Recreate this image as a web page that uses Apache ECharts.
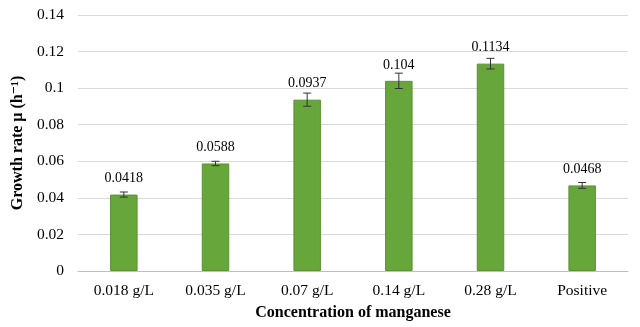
<!DOCTYPE html>
<html>
<head>
<meta charset="utf-8">
<script src="https://cdn.jsdelivr.net/npm/echarts@6/dist/echarts.min.js"></script>
<style>
  html, body { margin: 0; padding: 0; background: #fff; }
  #chart { width: 640px; height: 327px; }
</style>
</head>
<body>
<div id="chart"></div>
<script>
// categories and values
var categories = ['0.018 g/L', '0.035 g/L', '0.07 g/L', '0.14 g/L', '0.28 g/L', 'Positive'];
var rates = [0.0418, 0.0588, 0.0937, 0.104, 0.1134, 0.0468];
var errors = [0.0014, 0.0012, 0.0036, 0.0042, 0.0029, 0.0016];
var labels = ['0.0418', '0.0588', '0.0937', '0.104', '0.1134', '0.0468'];
var yTicks = [0, 0.02, 0.04, 0.06, 0.08, 0.1, 0.12, 0.14];

var serif = '"Liberation Serif", "DejaVu Serif", serif';

var errData = [];
for (var i = 0; i < rates.length; i++) {
  errData.push([i, rates[i] - errors[i], rates[i] + errors[i]]);
}

var chart = echarts.init(document.getElementById('chart'));

chart.setOption({
  animation: false,
  grid: { left: 78, right: 12, top: 15, bottom: 56 },
  xAxis: {
    type: 'category',
    data: categories,
    name: 'Concentration of manganese',
    nameLocation: 'middle',
    nameGap: 34,
    nameTextStyle: { fontFamily: serif, fontWeight: 'bold', fontSize: 16, color: '#000' },
    axisLine: { lineStyle: { color: '#bfbfbf', width: 1 } },
    axisTick: { show: false },
    axisLabel: { fontFamily: serif, fontSize: 15.5, color: '#000', margin: 12 }
  },
  yAxis: {
    type: 'value',
    min: 0,
    max: 0.14,
    interval: 0.02,
    name: 'Growth rate \u03bc (h\u207b\u00b9)',
    nameLocation: 'middle',
    nameGap: 48,
    nameTextStyle: { fontFamily: serif, fontWeight: 'bold', fontSize: 16, color: '#000' },
    axisLine: { show: false },
    axisTick: { show: false },
    splitLine: { lineStyle: { color: '#d9d9d9', width: 1 } },
    axisLabel: {
      fontFamily: serif, fontSize: 15.5, color: '#000', margin: 14,
      formatter: function (v) {
        var s = yTicks.filter(function (t) { return Math.abs(t - v) < 1e-9; });
        return s.length ? String(s[0]) : '';
      }
    }
  },
  series: [
    {
      type: 'bar',
      data: rates,
      barWidth: '30%',
      itemStyle: { color: '#66a63a', borderColor: '#5a9330', borderWidth: 1 },
      label: {
        show: true,
        position: 'top',
        distance: 9,
        fontFamily: serif,
        fontSize: 14,
        color: '#000',
        formatter: function (p) { return labels[p.dataIndex]; }
      },
      z: 2
    },
    {
      type: 'custom',
      data: errData,
      z: 3,
      renderItem: function (params, api) {
        var x = api.coord([api.value(0), 0])[0];
        var lo = api.coord([api.value(0), api.value(1)])[1];
        var hi = api.coord([api.value(0), api.value(2)])[1];
        var hw = 4;
        var style = { stroke: '#333', lineWidth: 1 };
        return {
          type: 'group',
          children: [
            { type: 'line', shape: { x1: x, y1: lo, x2: x, y2: hi }, style: style },
            { type: 'line', shape: { x1: x - hw, y1: lo, x2: x + hw, y2: lo }, style: style },
            { type: 'line', shape: { x1: x - hw, y1: hi, x2: x + hw, y2: hi }, style: style }
          ]
        };
      }
    }
  ]
});
</script>
</body>
</html>
